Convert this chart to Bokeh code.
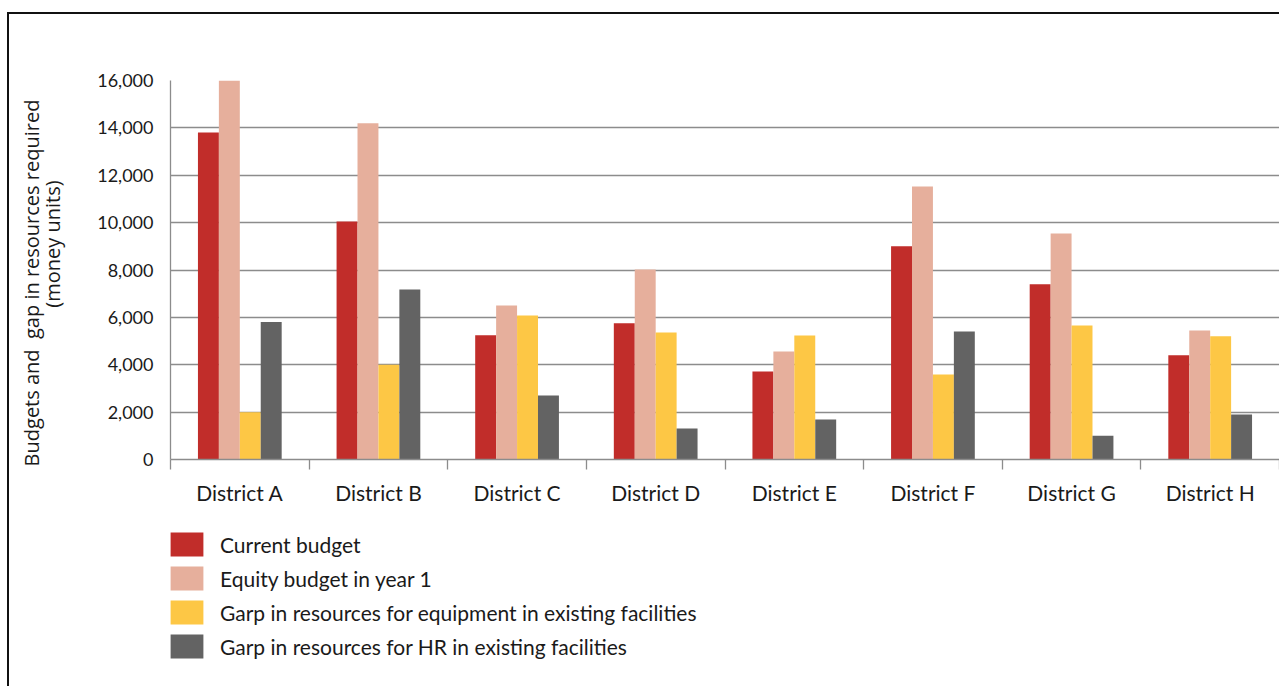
import numpy as np
from bokeh.plotting import figure
from bokeh.layouts import column
from bokeh.models import (ColumnDataSource, FixedTicker, NumeralTickFormatter,
                          Legend, LegendItem, Range1d)
from bokeh.embed import file_html
from bokeh.resources import INLINE

districts = ["District A", "District B", "District C", "District D",
             "District E", "District F", "District G", "District H"]
current_budget = [13800, 10050, 5250, 5750, 3720, 9000, 7400, 4400]
equity_budget = [16000, 14200, 6500, 8020, 4560, 11520, 9540, 5450]
gap_equipment = [2000, 4000, 6080, 5360, 5230, 3590, 5660, 5200]
gap_hr = [5800, 7180, 2700, 1310, 1690, 5400, 1000, 1900]
series_names = ["Current budget", "Equity budget in year 1",
                "Garp in resources for equipment in existing facilities",
                "Garp in resources for HR in existing facilities"]
series_colors = ["#C12D2A", "#E6AF9C", "#FDC745", "#636363"]
y_ticks = [0, 2000, 4000, 6000, 8000, 10000, 12000, 14000, 16000]
y_title_1 = "Budgets and\u00a0\u00a0gap in resources required"
y_title_2 = "(money units)"

FONT = "Lato"
TEXT = "#1a1a1a"
GRID = "#8c8c8c"
NB = "\u00a0"

p = figure(width=1270, height=510, output_backend="svg", toolbar_location=None,
           x_range=Range1d(0, len(districts)), y_range=Range1d(0, 16000),
           min_border_left=161, min_border_right=0, min_border_top=66,
           min_border_bottom=65)
p.outline_line_color = None

bar_w = 0.151
centers = np.arange(len(districts)) + 0.5
all_series = [current_budget, equity_budget, gap_equipment, gap_hr]
for i, (vals, col) in enumerate(zip(all_series, series_colors)):
    src = ColumnDataSource(dict(x=centers + (i - 1.5) * bar_w, top=vals))
    p.vbar(x="x", top="top", bottom=0, width=bar_w, source=src,
           fill_color=col, line_color=None)

# axes
p.xgrid.visible = False
p.ygrid.grid_line_color = GRID
p.ygrid.grid_line_width = 1.3
p.yaxis.ticker = FixedTicker(ticks=y_ticks)
p.yaxis.formatter = NumeralTickFormatter(format="0,0")
p.yaxis.axis_line_color = GRID
p.yaxis.axis_line_width = 1.3
p.yaxis.major_tick_line_color = None
p.yaxis.minor_tick_line_color = None
p.yaxis.major_tick_out = 0
p.yaxis.major_label_standoff = 17
p.yaxis.major_label_text_font = FONT
p.yaxis.major_label_text_font_size = "18px"
p.yaxis.major_label_text_color = TEXT
p.yaxis.axis_label = y_title_1 + NB * 5 + "\n" + NB * 10 + y_title_2
p.yaxis.axis_label_standoff = 28
p.yaxis.axis_label_text_font = "Open Sans"
p.yaxis.axis_label_text_font_size = "20px"
p.yaxis.axis_label_text_font_style = "normal"
p.yaxis.axis_label_text_color = TEXT
p.yaxis.axis_label_text_line_height = 0.8

p.xaxis.ticker = FixedTicker(ticks=list(centers),
                             minor_ticks=list(range(len(districts) + 1)))
p.xaxis.major_label_overrides = {float(c): d for c, d in zip(centers, districts)}
p.xaxis.axis_line_color = GRID
p.xaxis.axis_line_width = 1.3
p.xaxis.major_tick_line_color = None
p.xaxis.minor_tick_line_color = GRID
p.xaxis.minor_tick_line_width = 1.3
p.xaxis.minor_tick_in = 0
p.xaxis.minor_tick_out = 10
p.xaxis.major_label_standoff = 10
p.xaxis.major_label_text_font = FONT
p.xaxis.major_label_text_font_size = "21px"
p.xaxis.major_label_text_color = TEXT

# legend panel (separate figure below the chart, frames aligned)
leg_h = 162
pl = figure(width=1270, height=leg_h, output_backend="svg", toolbar_location=None,
            x_range=Range1d(0, 1), y_range=Range1d(0, 1), min_border=0)
pl.axis.visible = False
pl.grid.visible = False
pl.outline_line_color = None
leg_renderers = [pl.vbar(x=[-10], top=[-10], bottom=[-11], width=0.1,
                         fill_color=c, line_color=None)
                 for c in series_colors]
legend = Legend(items=[LegendItem(label=n, renderers=[r])
                       for n, r in zip(series_names, leg_renderers)],
                location=(-4, 25), orientation="vertical",
                glyph_width=41, glyph_height=30, spacing=4, label_standoff=13,
                padding=0, margin=0, border_line_color=None,
                background_fill_alpha=0, label_text_font=FONT,
                label_text_font_size="21px", label_text_color=TEXT)
pl.add_layout(legend, "center")

layout = column(p, pl, spacing=0,
                styles={"margin-left": "7px", "margin-top": "12px",
                        "border-left": "2px solid #111",
                        "border-top": "2px solid #111"})

open("out.html", "w").write(file_html(layout, INLINE))
